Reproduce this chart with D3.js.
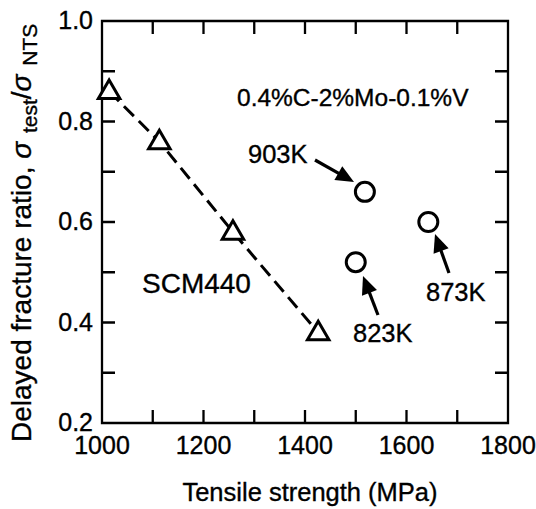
<!DOCTYPE html>
<html>
<head>
<meta charset="utf-8">
<script src="https://cdn.jsdelivr.net/npm/d3@7"></script>
<style>
  html, body { margin: 0; padding: 0; background: #fff; }
  svg { display: block; }
  text { font-family: "Liberation Sans", Arial, Helvetica, sans-serif; fill: #000; stroke: #000; stroke-width: 0.35px; }
</style>
</head>
<body>
<svg id="chart" width="536" height="509"></svg>
<script>
// ---- data ----
const scmStrength = [1014, 1113, 1258, 1426];
const scmRatio    = [0.86, 0.76, 0.58, 0.38];
const moLabels    = ["903K", "873K", "823K"];
const moStrength  = [1518, 1643, 1500];
const moRatio     = [0.66, 0.60, 0.52];
const xTicks      = [1000, 1100, 1200, 1300, 1400, 1500, 1600, 1700, 1800];
const yTicks      = [0.2, 0.3, 0.4, 0.5, 0.6, 0.7, 0.8, 0.9, 1.0];
const xTickLabels = ["1000", "", "1200", "", "1400", "", "1600", "", "1800"];
const yTickLabels = ["0.2", "", "0.4", "", "0.6", "", "0.8", "", "1.0"];

const svg = d3.select("#chart");
const x = d3.scaleLinear().domain([1000, 1800]).range([102, 508]);
const y = d3.scaleLinear().domain([0.2, 1.0]).range([423, 21]);
const [L, R] = x.range();
const [B, T] = y.range();
const tickLen = 13;

// frame + inward ticks on all four sides, one path
const p = d3.path();
p.rect(L, T, R - L, B - T);
xTicks.slice(1, -1).forEach(v => {
  p.moveTo(x(v), B); p.lineTo(x(v), B - tickLen);
  p.moveTo(x(v), T); p.lineTo(x(v), T + tickLen);
});
yTicks.slice(1, -1).forEach(v => {
  p.moveTo(L, y(v)); p.lineTo(L + tickLen, y(v));
  p.moveTo(R, y(v)); p.lineTo(R - tickLen, y(v));
});
svg.append("path").attr("d", p.toString()).attr("fill", "none")
  .attr("stroke", "#000").attr("stroke-width", 2.3);

// tick labels
svg.selectAll("text.xl").data(xTicks).join("text").attr("class", "xl")
  .attr("x", d => x(d)).attr("y", 454).attr("text-anchor", "middle")
  .style("font-size", "25px").text((d, i) => xTickLabels[i]);
svg.selectAll("text.ylab").data(yTicks).join("text").attr("class", "ylab")
  .attr("x", 93).attr("y", d => y(d) + 8).attr("text-anchor", "end")
  .style("font-size", "25px").text((d, i) => yTickLabels[i]);

// axis titles
svg.append("text").attr("x", 310).attr("y", 501).attr("text-anchor", "middle")
  .style("font-size", "25.5px").text("Tensile strength  (MPa)");

const yt = svg.append("text")
  .attr("transform", `translate(31,442) rotate(-90)`)
  .attr("text-anchor", "start")
  .style("font-size", "28px");
yt.append("tspan").text("Delayed fracture ratio,  ");
yt.append("tspan").style("font-style", "italic").text("σ");
yt.append("tspan").attr("dx", 3).attr("dy", 6).style("font-size", "21px").text(" test");
yt.append("tspan").attr("dy", -6).text("/");
yt.append("tspan").style("font-style", "italic").text("σ");
yt.append("tspan").attr("dx", 3).attr("dy", 6).style("font-size", "21px").text(" NTS");

// SCM440 dashed line + triangles
const scm = scmStrength.map((s, i) => ({ s, r: scmRatio[i] }));
svg.append("path").datum(scm)
  .attr("d", d3.line().x(d => x(d.s)).y(d => y(d.r)))
  .attr("fill", "none").attr("stroke", "#000").attr("stroke-width", 3)
  .attr("stroke-dasharray", "14,7");

const tri = d3.symbol().type(d3.symbolTriangle).size(200);
svg.selectAll("path.tri").data(scm).join("path").attr("class", "tri")
  .attr("d", tri)
  .attr("transform", d => `translate(${x(d.s)},${y(d.r) + 1})`)
  .attr("fill", "#fff").attr("stroke", "#000").attr("stroke-width", 3);

// Mo steel circles
const mo = moStrength.map((s, i) => ({ s, r: moRatio[i], label: moLabels[i] }));
svg.selectAll("circle.mo").data(mo).join("circle").attr("class", "mo")
  .attr("cx", d => x(d.s)).attr("cy", d => y(d.r)).attr("r", 9.5)
  .attr("fill", "#fff").attr("stroke", "#000").attr("stroke-width", 3);

// annotations
svg.append("text").attr("x", 237).attr("y", 106).style("font-size", "24.5px").text("0.4%C-2%Mo-0.1%V");
svg.append("text").attr("x", 142).attr("y", 293).style("font-size", "28px").text("SCM440");

const ann = [
  { lx: 248, ly: 163, tail: [315, 160], tip: [354, 182] },
  { lx: 426, ly: 301, tail: [449, 273], tip: [435, 234] },
  { lx: 353, ly: 342, tail: [378, 315], tip: [363, 276] }
];
mo.forEach((d, i) => {
  const a = ann[i];
  svg.append("text").attr("x", a.lx).attr("y", a.ly).style("font-size", "25.5px").text(d.label);
  const ddx = a.tip[0] - a.tail[0], ddy = a.tip[1] - a.tail[1];
  const len = Math.hypot(ddx, ddy), ux = ddx / len, uy = ddy / len;
  const hl = 18, hw = 8;
  const bx = a.tip[0] - ux * hl, by = a.tip[1] - uy * hl;
  svg.append("line").attr("x1", a.tail[0]).attr("y1", a.tail[1]).attr("x2", bx + ux * 2).attr("y2", by + uy * 2)
    .attr("stroke", "#000").attr("stroke-width", 3.2);
  svg.append("path")
    .attr("d", `M${a.tip[0]},${a.tip[1]} L${bx - uy * hw},${by + ux * hw} L${bx + uy * hw},${by - ux * hw} Z`)
    .attr("fill", "#000");
});
</script>
</body>
</html>
